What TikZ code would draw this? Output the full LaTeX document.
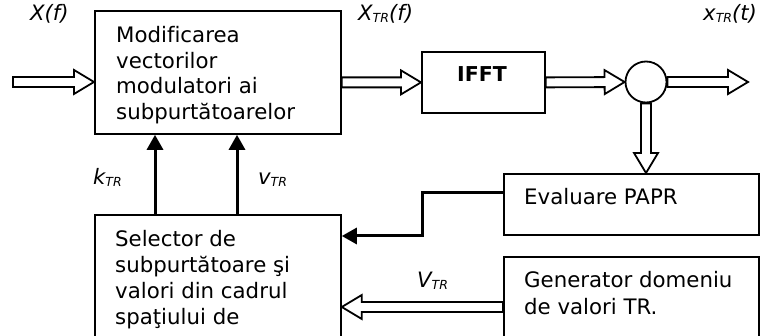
\documentclass[tikz,border=0pt]{standalone}
\usepackage{fontspec}
\setmainfont{DejaVu Sans}[Ligatures=NoCommon]
\usetikzlibrary{arrows.meta,calc}
\newcommand\sbs[1]{{\fontsize{12.5}{12.5}\selectfont\raisebox{-1.5pt}{#1}}}
\tikzset{
  box/.style={draw, line width=1.8pt, rectangle, inner sep=0pt, anchor=north west},
  txt/.style={anchor=base west, inner sep=0pt, align=left},
  lbl/.style={anchor=base west, inner sep=0pt, font=\fontsize{21.2}{24}\selectfont\itshape},
  boldline/.style={line width=3pt, -{Triangle[length=15pt,width=16pt]}},
  fat/.style={draw, fill=white, line width=1.8pt, line join=miter},
}
\newcommand\fatarrow[2]{%
  \path[fat] let \p1=(#1), \p2=(#2),
    \n1={veclen(\x2-\x1,\y2-\y1)},
    \n2={(\x2-\x1)/\n1}, \n3={(\y2-\y1)/\n1} in
    ({\x1-5*\n3},{\y1+5*\n2})
    -- ({\x1+(\n1-20)*\n2-5*\n3},{\y1+(\n1-20)*\n3+5*\n2})
    -- ({\x1+(\n1-20)*\n2-12*\n3},{\y1+(\n1-20)*\n3+12*\n2})
    -- (\p2)
    -- ({\x1+(\n1-20)*\n2+12*\n3},{\y1+(\n1-20)*\n3-12*\n2})
    -- ({\x1+(\n1-20)*\n2+5*\n3},{\y1+(\n1-20)*\n3-5*\n2})
    -- ({\x1+5*\n3},{\y1-5*\n2})
    -- cycle;}
\begin{document}
\begin{tikzpicture}[x=1pt,y=-1pt]
\useasboundingbox (0,0) rectangle (763,336);
\clip (0,0) rectangle (763,336);
\fill[white] (0,0) rectangle (763,336);

% boxes
\node[box, minimum width=246pt, minimum height=123pt] (main) at (94,10) {};
\node[box, minimum width=123pt, minimum height=61pt] (ifft) at (421,51) {};
\node[draw, circle, line width=1.8pt, minimum size=41pt, inner sep=0pt] (sum) at (646,82) {};
\node[box, minimum width=255pt, minimum height=61pt] (eval) at (503,173) {};
\node[box, minimum width=255pt, minimum height=120pt] (gen) at (503,256) {};
\node[box, minimum width=246pt, minimum height=150pt] (sel) at (94,214) {};

% texts in boxes (base anchor = baseline of the last line)
\node[txt, font=\fontsize{21.3}{25.5}\selectfont] (maintxt) at (116,119.5)
  {Modificarea\\vectorilor\\modulatori ai\\subpurtătoarelor};
\node[anchor=base, inner sep=0pt, font=\fontsize{20.5}{24}\selectfont\bfseries] (iffttxt) at (482,82) {IFFT};
\node[txt, font=\fontsize{21.3}{26}\selectfont] (evaltxt) at (524,205) {Evaluare PAPR};
\node[txt, font=\fontsize{21.3}{27}\selectfont] (gentxt) at (524,315) {Generator domeniu\\de valori TR.};
\node[txt, font=\fontsize{21.3}{26}\selectfont] (seltxt) at (115,325)
  {Selector de\\subpurtătoare şi\\valori din cadrul\\spaţiului de};

% labels
\node[lbl] (lX) at (30,21) {X(f)};
\node[lbl] (lXtr) at (358,21) {X\sbs{TR}(f)};
\node[lbl] (lxtr) at (703,21) {x\sbs{TR}(t)};
\node[lbl] (lk) at (93,185) {k\sbs{TR}};
\node[lbl] (lv) at (258,185) {v\sbs{TR}};
\node[lbl] (lV) at (417,288) {V\sbs{TR}};

% fat arrows
\coordinate (inS) at (13,82);
\coordinate (outE) at (748,82);
\fatarrow{inS}{inS -| main.west}
\fatarrow{ifft.west -| main.east}{ifft.west}
\fatarrow{ifft.east}{sum.west}
\fatarrow{sum.east}{outE}
\fatarrow{sum.south}{sum.south |- eval.north}
\coordinate (g1) at ($(gen.north west)+(0,51)$);
\fatarrow{g1}{g1 -| sel.east}

% bold arrows
\coordinate (k0) at ($(sel.north west)+(61,0)$);
\coordinate (v0) at ($(sel.north west)+(143,0)$);
\draw[boldline] (k0) -- (k0 |- main.south);
\draw[boldline] (v0) -- (v0 |- main.south);
\coordinate (e1) at ($(eval.north west)+(0,20)$);
\coordinate (f1) at ($(sel.north east)+(0,22)$);
\draw[boldline] (e1) -| ($(e1)!0.5!(f1)$) |- (f1);
\end{tikzpicture}
\end{document}
